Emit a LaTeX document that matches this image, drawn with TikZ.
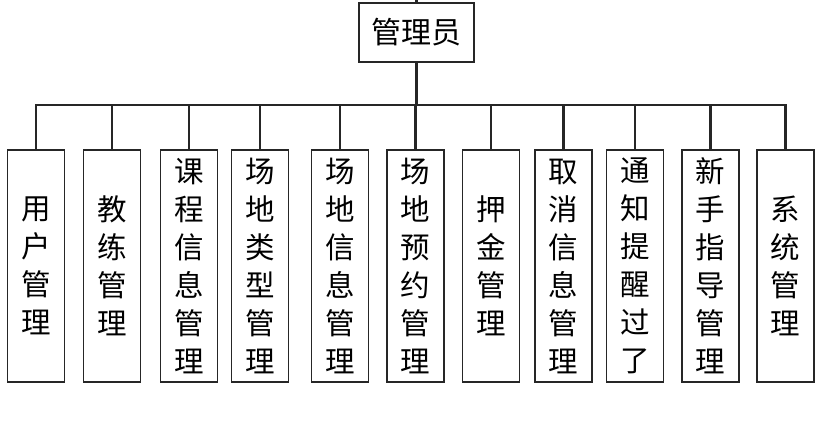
\documentclass[tikz,border=0pt]{standalone}
\usepackage{fontspec}
\setmainfont{Noto Sans CJK SC}
\usepackage{tikz}
\usetikzlibrary{positioning}

\begin{document}
\begin{tikzpicture}[x=1pt,y=-1pt,
  top/.style={draw=black!85,line width=1.2pt,fill=white,minimum width=115pt,minimum height=59pt,inner sep=0pt,font=\fontsize{30}{34}\selectfont},
  mod/.style={draw=black!85,line width=1.2pt,fill=white,minimum width=57pt,minimum height=232pt,inner sep=0pt,align=center,font=\fontsize{29.5}{38}\selectfont},
  link/.style={draw=black!85,line width=2.8pt}]
\useasboundingbox (0,0) rectangle (833,435);
% root
\node[top] (adm) at (416.5,32.5) {管理员};
\coordinate (upper) at (416.5,0);
\coordinate (bus) at (416.5,105);
% modules
\node[mod] (m1) at (36,266) {用\\户\\管\\理};
\node[mod] (m2) at (112,266) {教\\练\\管\\理};
\node[mod] (m3) at (189,266) {课\\程\\信\\息\\管\\理};
\node[mod] (m4) at (260,266) {场\\地\\类\\型\\管\\理};
\node[mod] (m5) at (340,266) {场\\地\\信\\息\\管\\理};
\node[mod] (m6) at (415.5,266) {场\\地\\预\\约\\管\\理};
\node[mod] (m7) at (491,266) {押\\金\\管\\理};
\node[mod] (m8) at (563.5,266) {取\\消\\信\\息\\管\\理};
\node[mod] (m9) at (635,266) {通\\知\\提\\醒\\过\\了};
\node[mod] (m10) at (710.5,266) {新\\手\\指\\导\\管\\理};
\node[mod] (m11) at (785.5,266) {系\\统\\管\\理};
% tree lines
\draw[link] (adm.north) -- (upper);
\draw[link] (adm.south) -- (bus);
\foreach \m in {m1,m2,m3,m4,m5,m6,m7,m8,m9,m10,m11}
  \draw[link] (\m.north) |- (bus);
\end{tikzpicture}
\end{document}
